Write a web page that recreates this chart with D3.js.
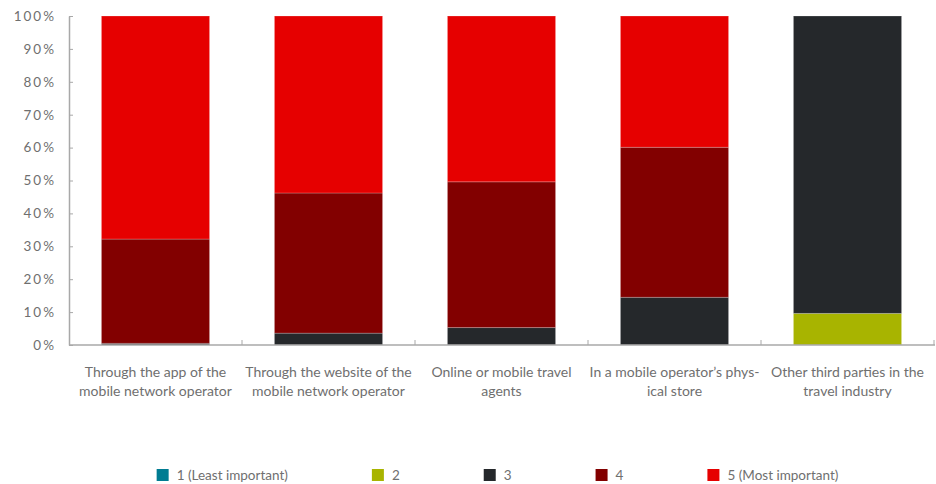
<!DOCTYPE html>
<html>
<head>
<meta charset="utf-8">
<script src="https://cdn.jsdelivr.net/npm/d3@7"></script>
<style>
  html, body { margin: 0; padding: 0; background: #fff; }
  svg { display: block; }
  text { font-family: Lato, "Open Sans", sans-serif; fill: #6f6f6f; }
</style>
</head>
<body>
<svg id="chart" width="936" height="484"></svg>
<script>
// Channels (x categories), each label split into its printed lines
const categories = [
  "app", "website", "agents", "store", "third"
];
const categoryLines = [
  ["Through the app of the", "mobile network operator"],
  ["Through the website of the", "mobile network operator"],
  ["Online or mobile travel", "agents"],
  ["In a mobile operator’s phys-", "ical store"],
  ["Other third parties in the", "travel industry"]
];

// Importance ratings (stack keys) and their legend labels
const ratings = ["r1", "r2", "r3", "r4", "r5"];
const ratingLabels = ["1 (Least important)", "2", "3", "4", "5 (Most important)"];
const ratingColors = ["#007c92", "#a8b400", "#25282b", "#820000", "#e60000"];

// Share of respondents per rating, in %, one value per channel
const rating1 = [0, 0, 0, 0, 0];
const rating2 = [0, 0, 0, 0, 9.6];
const rating3 = [0.5, 3.6, 5.3, 14.5, 90.4];
const rating4 = [31.7, 42.6, 44.3, 45.6, 0];
const rating5 = [67.8, 53.8, 50.4, 39.9, 0];

const yTicks = [0, 10, 20, 30, 40, 50, 60, 70, 80, 90, 100];

const rows = categories.map((c, i) => ({
  cat: c,
  r1: rating1[i], r2: rating2[i], r3: rating3[i], r4: rating4[i], r5: rating5[i]
}));

const svg = d3.select("#chart");
const plot = { left: 69, right: 934, top: 16, bottom: 345 };

const x = d3.scaleBand()
  .domain(categories)
  .range([plot.left, plot.right])
  .paddingInner(0.375)
  .paddingOuter(0.1875);

const y = d3.scaleLinear().domain([0, 100]).range([plot.bottom, plot.top]);

const color = d3.scaleOrdinal().domain(ratings).range(ratingColors);

const stacked = d3.stack().keys(ratings)(rows);

// Stacked bars
svg.append("g")
  .selectAll("g")
  .data(stacked)
  .join("g")
  .attr("fill", d => color(d.key))
  .selectAll("rect")
  .data(d => d.filter(s => s[1] - s[0] > 0))
  .join("rect")
  .attr("x", d => x(d.data.cat))
  .attr("width", x.bandwidth())
  .attr("y", d => y(d[1]))
  .attr("height", d => y(d[0]) - y(d[1]))
  .attr("stroke", "#ffffff")
  .attr("stroke-opacity", 0.22)
  .attr("stroke-width", 1);

// Y axis
const yAxis = svg.append("g")
  .attr("transform", `translate(${plot.left},0)`)
  .call(d3.axisLeft(y).tickValues(yTicks).tickFormat(d => d + "%").tickSizeInner(-4).tickSizeOuter(0).tickPadding(13));
yAxis.select(".domain").attr("stroke", "#a8a8a8").attr("stroke-width", 1.5);
yAxis.selectAll(".tick line").attr("stroke", "#a8a8a8");
yAxis.selectAll(".tick text")
  .style("font-family", "Lato, sans-serif")
  .style("font-size", "13.5px")
  .attr("fill", "#7a7a7a")
  .attr("letter-spacing", "2px");

// X axis with category boundary ticks
const xAxis = svg.append("g")
  .attr("transform", `translate(0,${plot.bottom})`);
xAxis.append("line")
  .attr("x1", plot.left).attr("x2", plot.right + 1)
  .attr("stroke", "#a8a8a8").attr("stroke-width", 1.5);
const boundaries = categories.map(c => x(c) + x.bandwidth() + x.step() * x.paddingInner() / 2);
xAxis.selectAll("line.bound")
  .data(boundaries)
  .join("line")
  .attr("class", "bound")
  .attr("x1", d => d).attr("x2", d => d)
  .attr("y1", 0).attr("y2", -5)
  .attr("stroke", "#a8a8a8");

// Category labels
const labels = svg.append("g")
  .selectAll("text")
  .data(categories)
  .join("text")
  .attr("text-anchor", "middle")
  .style("font-size", "14px")
  .attr("fill", "#6f6f6f")
  .attr("transform", d => `translate(${x(d) + x.bandwidth() / 2},377)`);
labels.selectAll("tspan")
  .data((d, i) => categoryLines[i])
  .join("tspan")
  .attr("x", 0)
  .attr("y", (d, j) => j * 19)
  .text(d => d);

// Legend
const legend = svg.append("g").attr("transform", "translate(0,475)");
const items = legend.selectAll("g")
  .data(ratings)
  .join("g");
items.append("rect")
  .attr("width", 12).attr("height", 12)
  .attr("y", -6)
  .attr("fill", d => color(d));
items.append("text")
  .attr("x", 20)
  .attr("y", 5)
  .style("font-size", "13.5px")
  .attr("fill", "#6f6f6f")
  .text((d, i) => ratingLabels[i]);

const gap = 84;
let pos = 0;
const widths = [];
items.each(function () {
  const w = 20 + d3.select(this).select("text").node().getComputedTextLength();
  widths.push(w);
});
const starts = widths.map(w => { const s = pos; pos += w + gap; return s; });
const total = pos - gap;
const startX = (plot.left + plot.right) / 2 - total / 2 - 4;
items.attr("transform", (d, i) => `translate(${startX + starts[i]},0)`);
</script>
</body>
</html>
